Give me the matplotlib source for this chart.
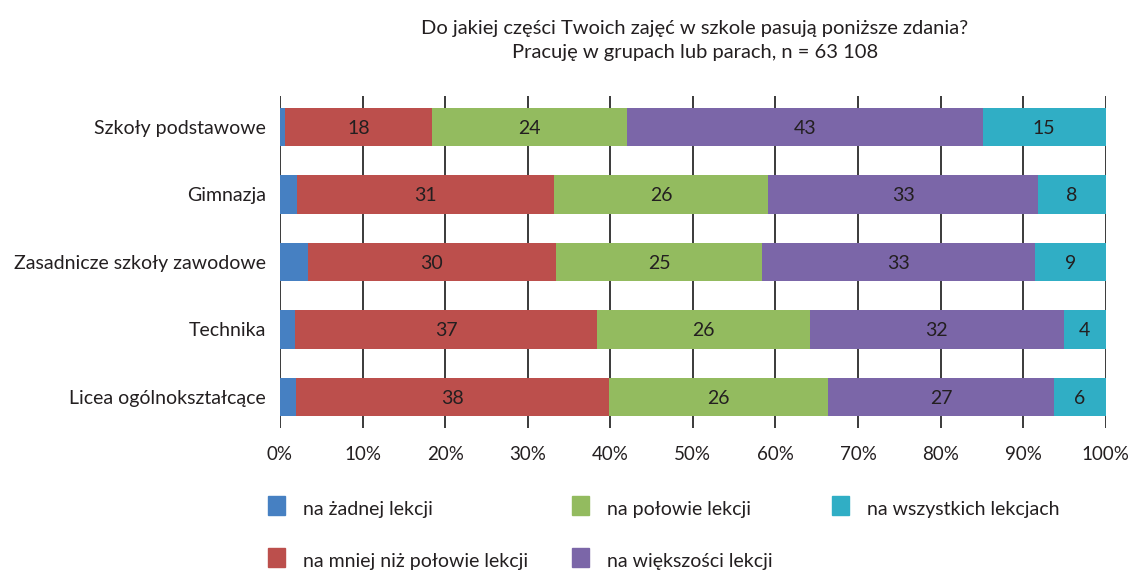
import matplotlib.pyplot as plt
from matplotlib.patches import Rectangle

# data
categories = ['Szkoły podstawowe', 'Gimnazja', 'Zasadnicze szkoły zawodowe',
              'Technika', 'Licea ogólnokształcące']
series = ['na żadnej lekcji', 'na mniej niż połowie lekcji', 'na połowie lekcji',
          'na większości lekcji', 'na wszystkich lekcjach']
zadnej = [0.6, 2.1, 3.4, 1.8, 1.9]
mniej = [17.8, 31.1, 30.0, 36.6, 37.9]
polowie = [23.6, 25.9, 25.0, 25.8, 26.6]
wiekszosci = [43.1, 32.7, 33.0, 30.7, 27.3]
wszystkich = [14.9, 8.2, 8.6, 5.1, 6.3]
# printed labels (as shown in the source chart)
lab_mniej = [18, 31, 30, 37, 38]
lab_polowie = [24, 26, 25, 26, 26]
lab_wiekszosci = [43, 33, 33, 32, 27]
lab_wszystkich = [15, 8, 9, 4, 6]

colors = ['#4680c2', '#bc4f4c', '#93bb5f', '#7b66a8', '#30aec5']
title = 'Do jakiej części Twoich zajęć w szkole pasują poniższe zdania?\nPracuję w grupach lub parach, n = 63 108'

plt.rcParams['font.family'] = ['Lato', 'DejaVu Sans']
txt = '#231f20'

fig = plt.figure(figsize=(11.34, 5.73), dpi=100)
ax = fig.add_axes([0.2469, 0.2531, 0.7282, 0.5794])

values = [zadnej, mniej, polowie, wiekszosci, wszystkich]
labels = [None, lab_mniej, lab_polowie, lab_wiekszosci, lab_wszystkich]
y = list(range(len(categories)))
left = [0.0] * len(categories)
for vals, labs, col in zip(values, labels, colors):
    ax.barh(y, vals, left=left, height=0.57, color=col, zorder=2)
    if labs is not None:
        for i in y:
            ax.text(left[i] + vals[i] / 2, i + 0.02, str(labs[i]), ha='center', va='center',
                    fontsize=14, color=txt, zorder=3)
    left = [l + v for l, v in zip(left, vals)]

for x in range(0, 101, 10):
    ax.axvline(x, color='#3a3a3a', lw=1.4, zorder=1)

ax.set_xlim(0, 100)
ax.set_ylim(4.46, -0.46)
ax.set_yticks(y)
ax.set_yticklabels(categories, fontsize=14, color=txt)
ax.set_xticks(range(0, 101, 10))
ax.set_xticklabels([f'{x}%' for x in range(0, 101, 10)], fontsize=13.5, color=txt)
ax.tick_params(axis='y', length=0, pad=10)
ax.tick_params(axis='x', length=0, pad=13)
for s in ax.spines.values():
    s.set_visible(False)

fig.text(0.6128, 0.93, title, ha='center', va='center', fontsize=14.5, color=txt,
         linespacing=1.5)

# legend laid out like the original (column-major, 3 columns)
leg_x = [268, 268, 572, 572, 832]
leg_y = [508, 560, 508, 560, 508]
W, H = 1134, 573
for name, col, lx, ly in zip(series, colors, leg_x, leg_y):
    fig.patches.append(Rectangle((lx / W, 1 - (ly + 7) / H), 17 / W, 19 / H,
                                 transform=fig.transFigure, color=col))
    fig.text((lx + 35) / W, 1 - (ly + 2) / H, name, ha='left', va='center',
             fontsize=14, color=txt)

fig.savefig('out.png', dpi=100)
